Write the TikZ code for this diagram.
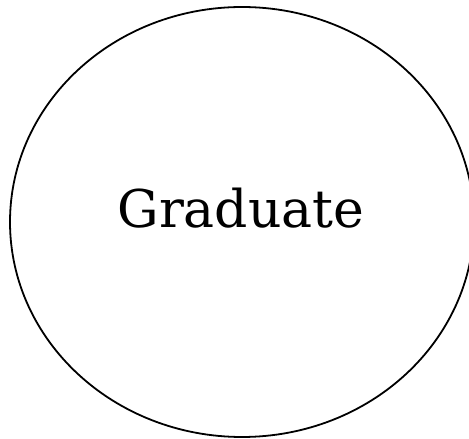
\documentclass[tikz,border=0pt]{standalone}
\usepackage{fontspec}
\setmainfont{DejaVu Serif}
\usetikzlibrary{shapes.geometric}
\begin{document}
\begin{tikzpicture}[x=1pt,y=1pt,
  oval/.style={draw=black,line width=1.8pt,ellipse,minimum width=464pt,minimum height=430pt,inner sep=0pt}]
\useasboundingbox (0,0) rectangle (469,439);
\clip (0,0) rectangle (469,439);
\node[oval] (g) at (242,217) {};
\node[font=\fontsize{52}{60}\selectfont,anchor=base] (t) at (241,211) {Graduate};
\end{tikzpicture}
\end{document}
